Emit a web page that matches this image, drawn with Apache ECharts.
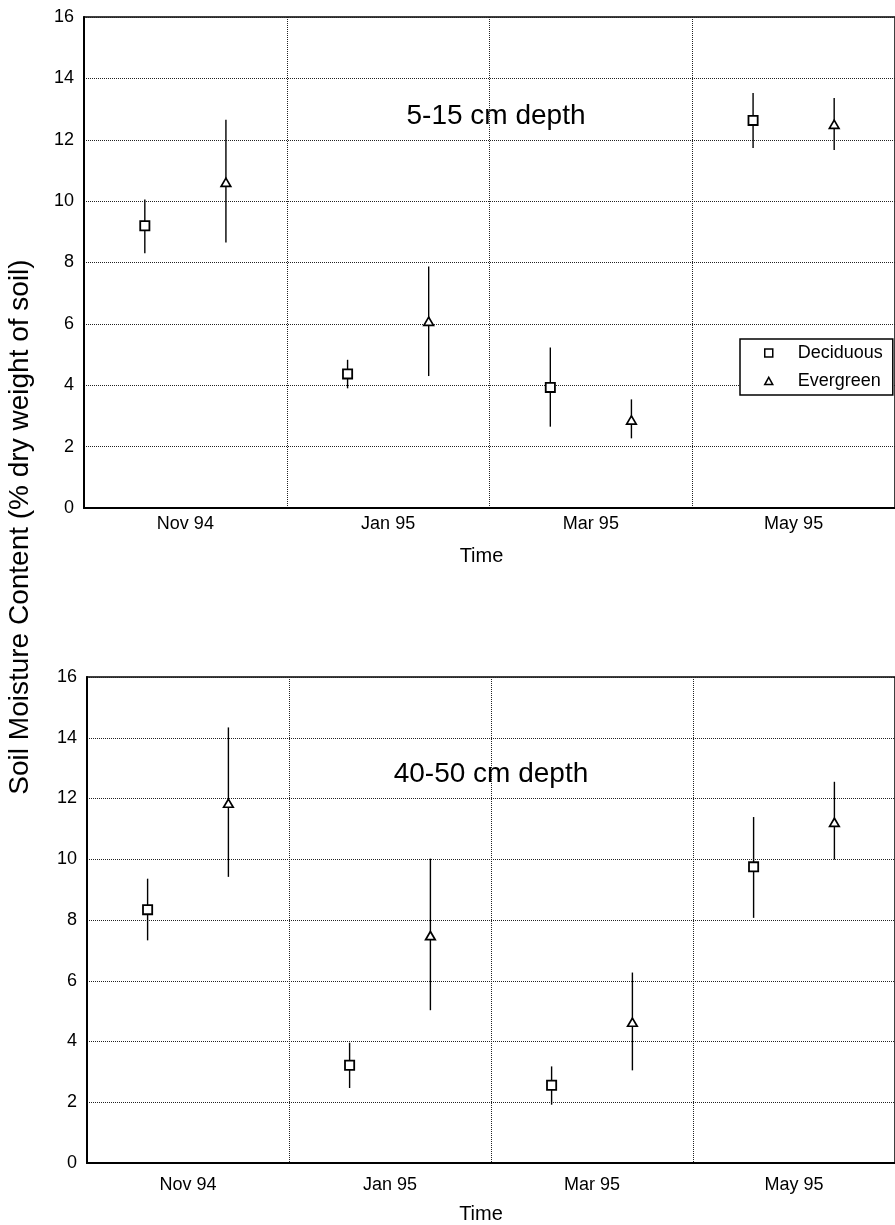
<!DOCTYPE html>
<html>
<head>
<meta charset="utf-8">
<script src="https://cdn.jsdelivr.net/npm/echarts@6/dist/echarts.min.js"></script>
<style>
  html, body { margin: 0; padding: 0; background: #fff; }
  #chart { width: 895px; height: 1225px; }
</style>
</head>
<body>
<div id="chart"></div>
<script>
// Sampling dates
const categories = ['Nov 94', 'Jan 95', 'Mar 95', 'May 95'];
const yTicks = [0, 2, 4, 6, 8, 10, 12, 14, 16];

// 5-15 cm depth: mean and error-bar range (% dry weight of soil)
const shallowDeciduousMean = [9.2, 4.37, 3.93, 12.63];
const shallowDeciduousLow  = [8.3, 3.9, 2.65, 11.73];
const shallowDeciduousHigh = [10.05, 4.83, 5.23, 13.52];
const shallowEvergreenMean = [10.6, 6.07, 2.85, 12.49];
const shallowEvergreenLow  = [8.65, 4.3, 2.27, 11.67];
const shallowEvergreenHigh = [12.65, 7.87, 3.54, 13.36];

// 40-50 cm depth
const deepDeciduousMean = [8.34, 3.22, 2.56, 9.75];
const deepDeciduousLow  = [7.33, 2.47, 1.92, 8.07];
const deepDeciduousHigh = [9.36, 3.96, 3.18, 11.39];
const deepEvergreenMean = [11.83, 7.47, 4.62, 11.2];
const deepEvergreenLow  = [9.42, 5.03, 3.05, 9.99];
const deepEvergreenHigh = [14.34, 10.02, 6.27, 12.55];

const FONT = '"Liberation Sans", Arial, sans-serif';

function rows(mean, low, high) {
  return mean.map((m, i) => [i, m, low[i], high[i]]);
}

// Marker + vertical error bar, shifted inside the category band
function makeRenderer(offsetFrac, shape) {
  return function (params, api) {
    const cat = api.value(0);
    const bw = api.size([1, 0])[0];
    const c = api.coord([cat, api.value(1)]);
    const x = c[0] + offsetFrac * bw;
    const y = c[1];
    const yLo = api.coord([cat, api.value(2)])[1];
    const yHi = api.coord([cat, api.value(3)])[1];
    const bar = {
      type: 'line',
      shape: { x1: x, y1: yHi, x2: x, y2: yLo },
      style: { stroke: '#000', lineWidth: 1.4 }
    };
    let marker;
    if (shape === 'square') {
      marker = {
        type: 'rect',
        shape: { x: x - 4.6, y: y - 4.6, width: 9.2, height: 9.2 },
        style: { fill: '#fff', stroke: '#000', lineWidth: 1.8 }
      };
    } else {
      marker = {
        type: 'polygon',
        shape: { points: [[x, y - 4.6], [x + 4.8, y + 3.6], [x - 4.8, y + 3.6]] },
        style: { fill: '#fff', stroke: '#000', lineWidth: 1.7 }
      };
    }
    return { type: 'group', children: [bar, marker] };
  };
}

const dotted = { color: '#222', width: 1, type: [1, 1] };

function xAxisFor(gridIndex, labelMargin, nameGap, namePadRight) {
  return {
    type: 'category',
    gridIndex: gridIndex,
    data: categories,
    boundaryGap: true,
    axisLine: { show: true, lineStyle: { color: '#000', width: 2 } },
    axisTick: { show: false },
    axisLabel: { color: '#000', fontFamily: FONT, fontSize: 18, margin: labelMargin },
    splitLine: { show: true, lineStyle: dotted },
    name: 'Time',
    nameLocation: 'middle',
    nameGap: nameGap,
    nameTextStyle: { color: '#000', fontFamily: FONT, fontSize: 20, padding: [0, namePadRight, 0, 0] }
  };
}

function yAxisFor(gridIndex) {
  return {
    type: 'value',
    gridIndex: gridIndex,
    min: yTicks[0],
    max: yTicks[yTicks.length - 1],
    interval: yTicks[1] - yTicks[0],
    axisLine: { show: true, lineStyle: { color: '#000', width: 2 } },
    axisTick: { show: false },
    axisLabel: { color: '#000', fontFamily: FONT, fontSize: 18, margin: 10 },
    splitLine: { show: true, lineStyle: dotted }
  };
}

const markerStyle = { color: '#fff', borderColor: '#000', borderWidth: 1.5 };

const chart = echarts.init(document.getElementById('chart'), null, { renderer: 'canvas' });
chart.setOption({
  backgroundColor: '#fff',
  animation: false,
  grid: [
    { left: 84, right: -3, top: 17, bottom: 717, show: true, borderColor: '#000', borderWidth: 1.5 },
    { left: 87, right: -8, top: 677, bottom: 62, show: true, borderColor: '#000', borderWidth: 1.5 }
  ],
  xAxis: [xAxisFor(0, 7, 38, 16), xAxisFor(1, 13, 41, 20)],
  yAxis: [yAxisFor(0), yAxisFor(1)],
  legend: {
    orient: 'vertical',
    left: 740,
    top: 339,
    padding: [5, 10, 5, 24],
    itemGap: 10,
    itemWidth: 8,
    itemHeight: 8,
    borderColor: '#000',
    borderWidth: 1.5,
    borderRadius: 0,
    backgroundColor: '#fff',
    textStyle: { color: '#000', fontFamily: FONT, fontSize: 18, lineHeight: 18, padding: [0, 0, 0, 20] },
    data: [
      { name: 'Deciduous', icon: 'path://M0,0L10,0L10,10L0,10Z', itemStyle: markerStyle },
      { name: 'Evergreen', icon: 'path://M5,0L10,9L0,9Z', itemStyle: markerStyle }
    ]
  },
  graphic: [
    {
      type: 'text', x: 496, y: 116,
      style: { text: '5-15 cm depth', font: '28px ' + FONT, fill: '#000', textAlign: 'center', textVerticalAlign: 'middle' }
    },
    {
      type: 'text', x: 491, y: 774,
      style: { text: '40-50 cm depth', font: '28px ' + FONT, fill: '#000', textAlign: 'center', textVerticalAlign: 'middle' }
    },
    {
      type: 'text', x: 20, y: 527, rotation: Math.PI / 2,
      style: { text: 'Soil Moisture Content (% dry weight of soil)', font: '28px ' + FONT, fill: '#000', textAlign: 'center', textVerticalAlign: 'middle' }
    }
  ],
  series: [
    {
      name: 'Deciduous', type: 'custom', xAxisIndex: 0, yAxisIndex: 0,
      renderItem: makeRenderer(-0.2, 'square'), itemStyle: markerStyle,
      encode: { x: 0, y: 1 }, data: rows(shallowDeciduousMean, shallowDeciduousLow, shallowDeciduousHigh)
    },
    {
      name: 'Evergreen', type: 'custom', xAxisIndex: 0, yAxisIndex: 0,
      renderItem: makeRenderer(0.2, 'triangle'), itemStyle: markerStyle,
      encode: { x: 0, y: 1 }, data: rows(shallowEvergreenMean, shallowEvergreenLow, shallowEvergreenHigh)
    },
    {
      name: 'Deciduous', type: 'custom', xAxisIndex: 1, yAxisIndex: 1,
      renderItem: makeRenderer(-0.2, 'square'), itemStyle: markerStyle,
      encode: { x: 0, y: 1 }, data: rows(deepDeciduousMean, deepDeciduousLow, deepDeciduousHigh)
    },
    {
      name: 'Evergreen', type: 'custom', xAxisIndex: 1, yAxisIndex: 1,
      renderItem: makeRenderer(0.2, 'triangle'), itemStyle: markerStyle,
      encode: { x: 0, y: 1 }, data: rows(deepEvergreenMean, deepEvergreenLow, deepEvergreenHigh)
    }
  ]
});
</script>
</body>
</html>
